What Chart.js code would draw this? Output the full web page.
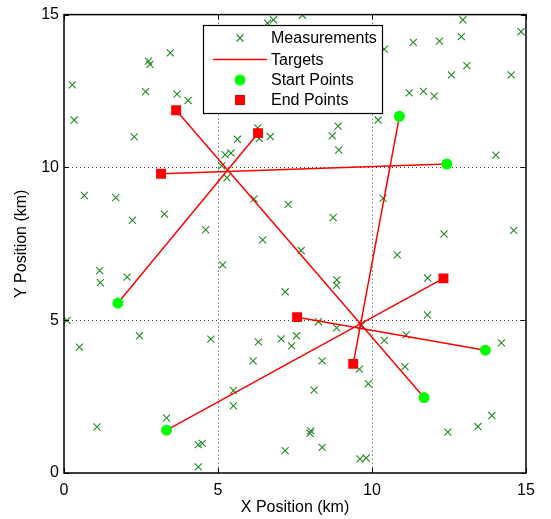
<!DOCTYPE html>
<html>
<head>
<meta charset="utf-8">
<script src="https://cdn.jsdelivr.net/npm/chart.js@4/dist/chart.umd.min.js"></script>
<style>
  html, body { margin: 0; padding: 0; background: #fff; }
  #wrap { width: 551px; height: 519px; }
</style>
</head>
<body>
<div id="wrap"><canvas id="track-chart"></canvas></div>
<script>
// measurements (km)
const meas_x = [0.27, 0.33, 2.28, 2.65, 2.74, 2.79, 3.45, 3.67, 4.03, 5.63, 6.29, 6.34, 6.70, 5.23, 5.42, 5.12, 6.61, 6.80,
    7.74, 10.40, 11.34, 12.19, 12.95, 12.90, 14.84, 12.58, 13.08, 14.52, 11.21, 11.67, 12.02, 10.20, 8.90, 8.71, 8.92, 14.02,
    5.29, 0.66, 1.68, 2.22, 3.26, 4.60, 6.17, 7.28, 6.45, 5.15, 1.16, 1.18, 2.05, 7.18, 0.10,
    10.36, 8.74, 12.34, 14.60, 7.70, 10.82, 8.86, 8.85, 11.81, 11.80, 7.53, 8.26, 8.85,
    7.55, 7.39, 10.40, 11.11, 14.20, 8.38, 9.59, 11.07, 9.88, 8.12, 8.01, 7.99, 8.38, 12.46, 13.44, 13.89, 9.61, 9.81,
    2.45, 0.50, 4.77, 6.31, 7.05, 6.14, 5.50, 5.50, 1.07, 3.33, 4.36, 4.49, 4.36, 7.18, 9.65];
const meas_y = [12.70, 11.55, 11.00, 12.48, 13.48, 13.37, 13.75, 12.40, 12.19, 10.92, 11.29, 10.94, 11.01, 10.42, 10.47, 10.05, 14.72, 14.83,
    14.98, 13.87, 14.09, 14.13, 14.83, 14.28, 14.44, 13.03, 13.33, 13.03, 12.44, 12.49, 12.33, 11.55, 11.35, 11.03, 10.57, 10.40,
    9.66, 9.08, 9.01, 8.27, 8.47, 7.96, 8.97, 8.79, 7.63, 6.81, 6.62, 6.23, 6.41, 5.93, 4.99,
    8.99, 8.36, 7.82, 7.94, 7.28, 7.14, 6.32, 6.14, 6.38, 5.17, 5.09, 4.95, 4.75,
    4.49, 4.16, 4.34, 4.52, 4.26, 3.67, 3.40, 3.48, 2.92, 2.71, 1.38, 1.30, 0.84, 1.34, 1.52, 1.88, 0.46, 0.49,
    4.49, 4.12, 4.38, 4.29, 4.39, 3.67, 2.70, 2.20, 1.51, 1.80, 0.93, 0.97, 0.20, 0.73, 4.82];

// targets: start -> end
const start_x = [1.75, 11.69, 12.43, 10.89, 3.33, 13.68];
const start_y = [5.56, 2.47, 10.11, 11.67, 1.40, 4.02];
const end_x = [6.30, 3.64, 3.15, 9.39, 12.32, 7.57];
const end_y = [11.12, 11.87, 9.79, 3.57, 6.37, 5.10];

const axis_ticks = [0, 5, 10, 15];

const font_family = "'Liberation Sans', Arial, Helvetica, sans-serif";
const meas_color = 'rgb(34,139,34)';
const target_color = '#ff0000';
const start_color = '#00ff00';

let datasets = [];
datasets.push({
    label: 'Measurements',
    data: meas_x.map((x, i) => ({ x: x, y: meas_y[i] })),
    showLine: false,
    pointStyle: 'crossRot',
    pointRadius: 5,
    borderColor: meas_color,
    borderWidth: 1.1,
    order: 10
});
start_x.forEach((x, i) => {
    datasets.push({
        label: 'Targets',
        data: [{ x: x, y: start_y[i] }, { x: end_x[i], y: end_y[i] }],
        showLine: true,
        pointRadius: 0,
        borderColor: target_color,
        borderWidth: 1.5,
        order: 5
    });
});
datasets.push({
    label: 'Start Points',
    data: start_x.map((x, i) => ({ x: x, y: start_y[i] })),
    showLine: false,
    pointStyle: 'circle',
    pointRadius: 5.5,
    backgroundColor: start_color,
    borderColor: start_color,
    borderWidth: 0,
    order: 1
});
datasets.push({
    label: 'End Points',
    data: end_x.map((x, i) => ({ x: x, y: end_y[i] })),
    showLine: false,
    pointStyle: 'rect',
    pointRadius: 7,
    backgroundColor: target_color,
    borderColor: target_color,
    borderWidth: 0,
    order: 1
});

// box, inner ticks and legend like the matlab figure
const frame_plugin = {
    id: 'frame',
    afterDraw(chart) {
        const ctx = chart.ctx;
        const a = chart.chartArea;
        const xs = chart.scales.x, ys = chart.scales.y;
        ctx.save();
        ctx.strokeStyle = '#000';
        ctx.lineWidth = 1;
        ctx.beginPath();
        axis_ticks.forEach(v => {
            let px = Math.round(xs.getPixelForValue(v)) + 0.5;
            let py = Math.round(ys.getPixelForValue(v)) + 0.5;
            ctx.moveTo(px, a.bottom); ctx.lineTo(px, a.bottom - 5);
            ctx.moveTo(px, a.top); ctx.lineTo(px, a.top + 5);
            ctx.moveTo(a.left, py); ctx.lineTo(a.left + 5, py);
            ctx.moveTo(a.right, py); ctx.lineTo(a.right - 5, py);
        });
        ctx.stroke();
        ctx.lineWidth = 1.5;
        ctx.strokeRect(a.left, a.top, a.right - a.left, a.bottom - a.top);

        // legend
        const lx = 203, ly = 25, lw = 179, lh = 88;
        ctx.fillStyle = '#fff';
        ctx.fillRect(lx, ly, lw, lh);
        ctx.lineWidth = 1.2;
        ctx.strokeRect(lx + 0.5, ly + 0.5, lw, lh);
        const rows = [38, 59.5, 80, 100];
        const sx = 240;
        // measurements
        ctx.strokeStyle = meas_color;
        ctx.lineWidth = 1.1;
        ctx.beginPath();
        ctx.moveTo(sx - 3.5, rows[0] - 3.5); ctx.lineTo(sx + 3.5, rows[0] + 3.5);
        ctx.moveTo(sx - 3.5, rows[0] + 3.5); ctx.lineTo(sx + 3.5, rows[0] - 3.5);
        ctx.stroke();
        // targets
        ctx.strokeStyle = target_color;
        ctx.lineWidth = 1.5;
        ctx.beginPath();
        ctx.moveTo(213, rows[1]); ctx.lineTo(267, rows[1]);
        ctx.stroke();
        // start
        ctx.fillStyle = start_color;
        ctx.beginPath();
        ctx.arc(sx, rows[2], 5.5, 0, Math.PI * 2);
        ctx.fill();
        // end
        ctx.fillStyle = target_color;
        ctx.fillRect(sx - 5, rows[3] - 5, 10, 10);

        ctx.fillStyle = '#000';
        ctx.font = '16px ' + font_family;
        ctx.textBaseline = 'middle';
        ctx.textAlign = 'left';
        ['Measurements', 'Targets', 'Start Points', 'End Points'].forEach((t, i) => {
            ctx.fillText(t, 271, rows[i] + 1);
        });
        ctx.restore();
    }
};

const grid_opts = {
    color: ctx => (ctx.tick && (ctx.tick.value == 0 || ctx.tick.value == 15)) ? 'rgba(0,0,0,0)' : 'rgba(0,0,0,0.75)',
    lineWidth: 1,
    drawTicks: false
};

onload = () => {
    new Chart(document.getElementById('track-chart'), {
        type: 'scatter',
        data: { datasets: datasets },
        plugins: [frame_plugin],
        options: {
            responsive: true,
            maintainAspectRatio: false,
            animation: false,
            layout: { padding: { top: 12, right: 25, left: 0, bottom: 0 } },
            plugins: {
                legend: { display: false },
                tooltip: { enabled: false }
            },
            scales: {
                x: {
                    type: 'linear',
                    min: 0,
                    max: 15,
                    afterBuildTicks: scale => { scale.ticks = axis_ticks.map(v => ({ value: v })); },
                    afterFit: scale => { scale.height = 46; },
                    grid: grid_opts,
                    border: { display: false, dash: [1, 3] },
                    ticks: { padding: 8, color: '#000', font: { family: font_family, size: 16 } },
                    title: {
                        display: true,
                        text: 'X Position (km)',
                        color: '#000',
                        font: { family: font_family, size: 16 },
                        padding: { top: 0, bottom: 2 }
                    }
                },
                y: {
                    type: 'linear',
                    min: 0,
                    max: 15,
                    afterBuildTicks: scale => { scale.ticks = axis_ticks.map(v => ({ value: v })); },
                    afterFit: scale => { scale.width = 64; },
                    grid: grid_opts,
                    border: { display: false, dash: [1, 3] },
                    ticks: { padding: 5, color: '#000', font: { family: font_family, size: 16 } },
                    title: {
                        display: true,
                        text: 'Y Position (km)',
                        color: '#000',
                        font: { family: font_family, size: 16 },
                        padding: { top: 12, bottom: 0 }
                    }
                }
            }
        }
    });
};
</script>
</body>
</html>
